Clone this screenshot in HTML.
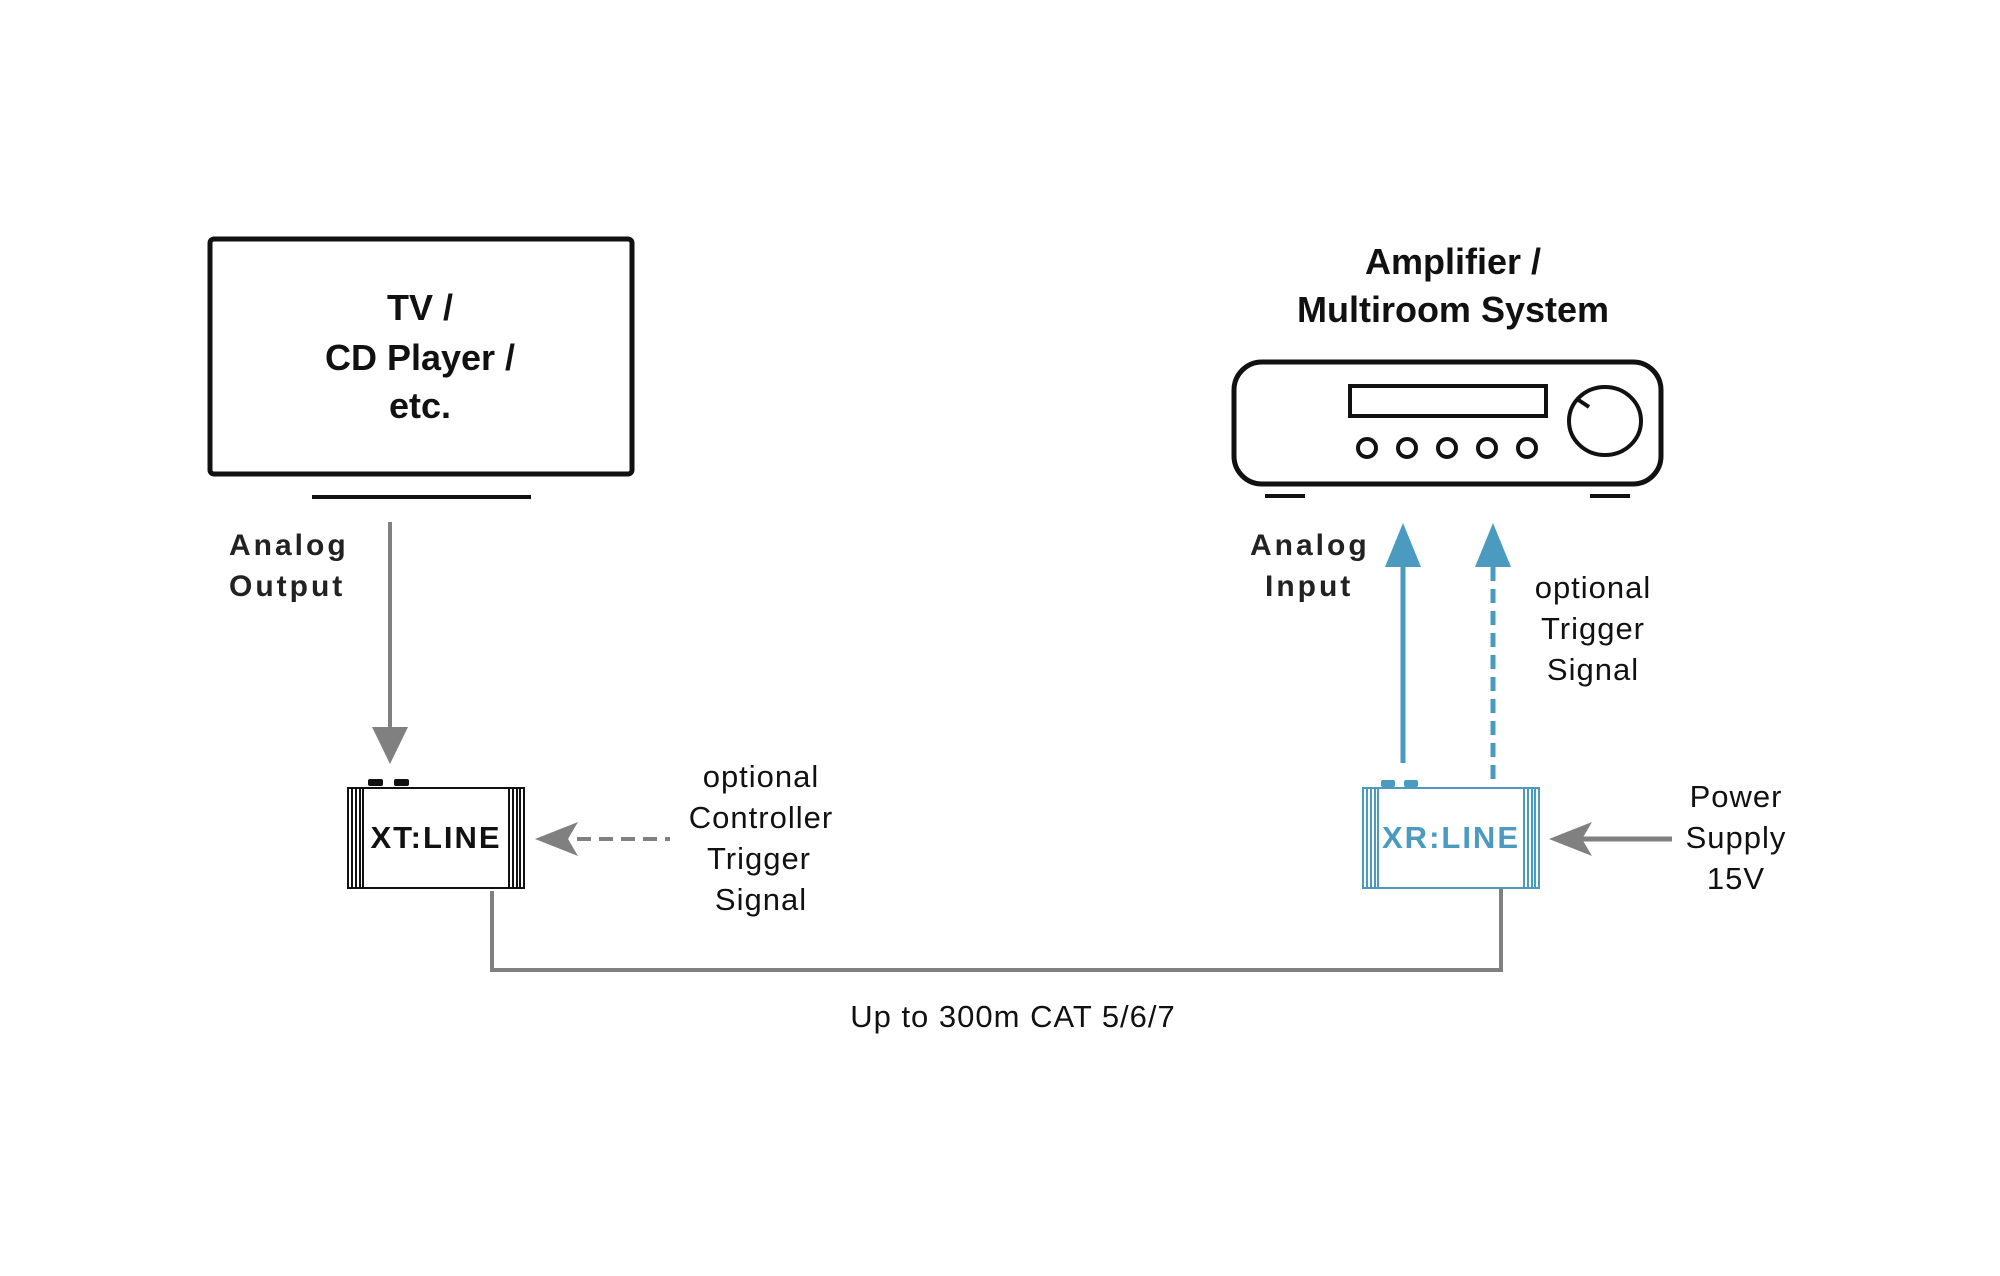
<!DOCTYPE html>
<html><head><meta charset="utf-8"><style>body{margin:0;background:#fff}svg{display:block}</style></head><body>
<svg width="2000" height="1276" viewBox="0 0 2000 1276" xmlns="http://www.w3.org/2000/svg" font-family="Liberation Sans, sans-serif">
<rect width="2000" height="1276" fill="#fff"/>
<!-- TV -->
<rect x="210" y="239" width="422" height="235" rx="4" fill="none" stroke="#111" stroke-width="5"/>
<line x1="312" y1="497" x2="531" y2="497" stroke="#111" stroke-width="4"/>
<g font-weight="bold" font-size="36" text-anchor="middle" fill="#111">
<text x="420" y="320">TV /</text><text x="420" y="370">CD Player /</text><text x="420" y="418">etc.</text>
<text x="1453" y="274">Amplifier /</text><text x="1453" y="322">Multiroom System</text>
</g>
<g font-weight="bold" font-size="30" fill="#222" letter-spacing="3">
<text x="229" y="555">Analog</text><text x="229" y="596">Output</text>
<text x="1250" y="555">Analog</text><text x="1265" y="596">Input</text>
</g>
<!-- arrow down -->
<line x1="390" y1="522" x2="390" y2="740" stroke="#808080" stroke-width="4"/>
<polygon points="372,727 408,727 390,764 " fill="#808080"/>
<!-- XT box -->
<g transform="translate(0,-4)">
<g stroke="#111" stroke-width="2" fill="none">
<rect x="348" y="792" width="176" height="100"/>
<line x1="352" y1="792" x2="352" y2="892"/><line x1="356" y1="792" x2="356" y2="892"/><line x1="360" y1="792" x2="360" y2="892"/><line x1="363" y1="792" x2="363" y2="892"/>
<line x1="509" y1="792" x2="509" y2="892"/><line x1="513" y1="792" x2="513" y2="892"/><line x1="517" y1="792" x2="517" y2="892"/><line x1="520" y1="792" x2="520" y2="892"/>
</g>
<rect x="368" y="783" width="15" height="7" rx="2" fill="#111"/><rect x="394" y="783" width="15" height="7" rx="2" fill="#111"/>
<text x="436" y="852" font-weight="bold" font-size="31" text-anchor="middle" fill="#111" letter-spacing="2">XT:LINE</text>
</g>
<!-- dashed left arrow -->
<line x1="577" y1="839" x2="670" y2="839" stroke="#808080" stroke-width="4" stroke-dasharray="14,8"/>
<polygon points="535,839 578,822 568,839 578,856" fill="#808080"/>
<g font-size="31" text-anchor="middle" fill="#111" letter-spacing="1">
<text x="761" y="787">optional</text><text x="761" y="828">Controller</text><text x="759" y="869">Trigger</text><text x="761" y="910">Signal</text>
<text x="1593" y="598">optional</text><text x="1593" y="639">Trigger</text><text x="1593" y="680">Signal</text>
<text x="1736" y="807">Power</text><text x="1736" y="848">Supply</text><text x="1736" y="889">15V</text>
<text x="1013" y="1027">Up to 300m CAT 5/6/7</text>
</g>
<!-- cable -->
<polyline points="492,891 492,970 1501,970 1501,889" fill="none" stroke="#808080" stroke-width="4"/>
<!-- Amp -->
<g transform="translate(-7,-2)">
<rect x="1241" y="364" width="427" height="122" rx="28" fill="none" stroke="#111" stroke-width="5"/>
<rect x="1357" y="388" width="196" height="30" fill="none" stroke="#111" stroke-width="4"/>
<g fill="none" stroke="#111" stroke-width="4">
<circle cx="1374" cy="450" r="9"/><circle cx="1414" cy="450" r="9"/><circle cx="1454" cy="450" r="9"/><circle cx="1494" cy="450" r="9"/><circle cx="1534" cy="450" r="9"/>
<ellipse cx="1612" cy="423" rx="36" ry="34"/>
<line x1="1584" y1="401" x2="1596" y2="409"/>
</g>
<line x1="1272" y1="498" x2="1312" y2="498" stroke="#111" stroke-width="4"/>
<line x1="1597" y1="498" x2="1637" y2="498" stroke="#111" stroke-width="4"/>
</g>
<!-- blue arrows -->
<g transform="translate(-7,-5)">
<line x1="1410" y1="560" x2="1410" y2="768" stroke="#4a9bbf" stroke-width="5"/>
<polygon points="1410,528 1428,572 1392,572" fill="#4a9bbf"/>
<line x1="1500" y1="572" x2="1500" y2="788" stroke="#4a9bbf" stroke-width="5" stroke-dasharray="14,8"/>
<polygon points="1500,528 1518,572 1482,572" fill="#4a9bbf"/>
</g>
<!-- XR box -->
<g transform="translate(-8,-4)">
<g stroke="#4a9bbf" stroke-width="2" fill="none">
<rect x="1371" y="792" width="176" height="100"/>
<line x1="1375" y1="792" x2="1375" y2="892"/><line x1="1379" y1="792" x2="1379" y2="892"/><line x1="1383" y1="792" x2="1383" y2="892"/><line x1="1386" y1="792" x2="1386" y2="892"/>
<line x1="1532" y1="792" x2="1532" y2="892"/><line x1="1536" y1="792" x2="1536" y2="892"/><line x1="1540" y1="792" x2="1540" y2="892"/><line x1="1543" y1="792" x2="1543" y2="892"/>
</g>
<rect x="1389" y="784" width="14" height="7" rx="2" fill="#4a9bbf"/><rect x="1412" y="784" width="14" height="7" rx="2" fill="#4a9bbf"/>
<text x="1459" y="852" font-weight="bold" font-size="31" text-anchor="middle" fill="#4a9bbf" letter-spacing="2">XR:LINE</text>
</g>
<!-- power arrow -->
<g transform="translate(-8,-4)">
<line x1="1590" y1="843" x2="1680" y2="843" stroke="#808080" stroke-width="5"/>
<polygon points="1557,843 1600,826 1590,843 1600,860" fill="#808080"/>
</g>
</svg>
</body></html>
